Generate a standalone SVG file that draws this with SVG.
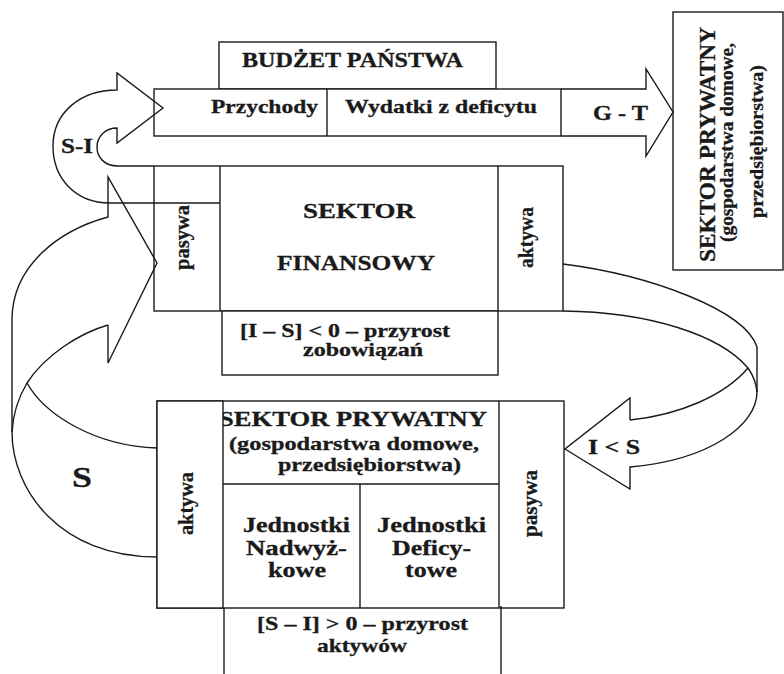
<svg xmlns="http://www.w3.org/2000/svg" width="784" height="674" viewBox="0 0 784 674">
<style>
.bx{fill:#fff;stroke:#1a1a1a;stroke-width:1.4}
.ln{fill:none;stroke:#1a1a1a;stroke-width:1.4;stroke-linejoin:miter}
text{font-family:"Liberation Serif","Times New Roman",serif;font-weight:bold;fill:#1a1a1a;stroke:#1a1a1a;stroke-width:0.3}
.f19{font-size:19px}.f20{font-size:20px}.f21{font-size:21px}.f22{font-size:22px}.f23{font-size:23px}
</style>
<rect width="784" height="674" fill="#fff" stroke="none"/>

<g id="budzet">
<rect class="bx" x="219" y="42" width="277" height="47"/>
<text class="f21" x="242" y="67" textLength="221" lengthAdjust="spacingAndGlyphs">BUDŻET PAŃSTWA</text>
<rect class="bx" x="154" y="89" width="407" height="47"/>
<line class="ln" x1="327" y1="89" x2="327" y2="136"/>
<text class="f19" x="211" y="113" textLength="107" lengthAdjust="spacingAndGlyphs">Przychody</text>
<text class="f19" x="345" y="113" textLength="192" lengthAdjust="spacingAndGlyphs">Wydatki z deficytu</text>
</g>

<g id="sektor-prywatny-prawy">
<rect class="bx" x="673" y="12" width="110" height="258"/>
<text class="f23" transform="translate(715,262) rotate(-90)" textLength="235" lengthAdjust="spacingAndGlyphs">SEKTOR PRYWATNY</text>
<text style="font-size:18px" transform="translate(733,242) rotate(-90)" textLength="199" lengthAdjust="spacingAndGlyphs">(gospodarstwa domowe,</text>
<text style="font-size:18px" transform="translate(763,218) rotate(-90)" textLength="153" lengthAdjust="spacingAndGlyphs">przedsiębiorstwa)</text>
</g>

<g id="sektor-finansowy">
<rect class="bx" x="154" y="166" width="409" height="145"/>
<line class="ln" x1="220" y1="166" x2="220" y2="311"/>
<line class="ln" x1="498" y1="166" x2="498" y2="311"/>
<text class="f22" x="303" y="218" textLength="112" lengthAdjust="spacingAndGlyphs">SEKTOR</text>
<text class="f22" x="277" y="270" textLength="158" lengthAdjust="spacingAndGlyphs">FINANSOWY</text>
<text class="f20" transform="translate(189,270) rotate(-90)" textLength="65" lengthAdjust="spacingAndGlyphs">pasywa</text>
<text class="f20" transform="translate(533,268) rotate(-90)" textLength="61" lengthAdjust="spacingAndGlyphs">aktywa</text>
</g>

<g id="nota-finansowy">
<rect class="bx" x="222" y="311" width="276" height="64"/>
<text class="f19" x="240" y="337" textLength="210" lengthAdjust="spacingAndGlyphs">[I – S] &lt; 0 – przyrost</text>
<text class="f19" x="303" y="356" textLength="120" lengthAdjust="spacingAndGlyphs">zobowiązań</text>
</g>

<g id="sektor-prywatny">
<rect class="bx" x="157" y="401" width="407" height="207"/>
<text class="f22" x="219" y="426" textLength="268" lengthAdjust="spacingAndGlyphs">SEKTOR PRYWATNY</text>
<text class="f19" x="229" y="450" textLength="250" lengthAdjust="spacingAndGlyphs">(gospodarstwa domowe,</text>
<text class="f19" x="278" y="471" textLength="183" lengthAdjust="spacingAndGlyphs">przedsiębiorstwa)</text>
<rect class="bx" x="157" y="401" width="66" height="207"/>
<line class="ln" x1="499" y1="401" x2="499" y2="608"/>
<line class="ln" x1="223" y1="484" x2="499" y2="484"/>
<line class="ln" x1="360" y1="484" x2="360" y2="608"/>
<text class="f20" transform="translate(193,535) rotate(-90)" textLength="63" lengthAdjust="spacingAndGlyphs">aktywa</text>
<text class="f20" transform="translate(537,537) rotate(-90)" textLength="67" lengthAdjust="spacingAndGlyphs">pasywa</text>
<text class="f20" x="243" y="532" textLength="107" lengthAdjust="spacingAndGlyphs">Jednostki</text>
<text class="f20" x="246" y="555" textLength="101" lengthAdjust="spacingAndGlyphs">Nadwyż-</text>
<text class="f20" x="268" y="577" textLength="58" lengthAdjust="spacingAndGlyphs">kowe</text>
<text class="f20" x="377" y="532" textLength="109" lengthAdjust="spacingAndGlyphs">Jednostki</text>
<text class="f20" x="392" y="555" textLength="79" lengthAdjust="spacingAndGlyphs">Deficy-</text>
<text class="f20" x="405" y="577" textLength="52" lengthAdjust="spacingAndGlyphs">towe</text>
</g>

<g id="nota-prywatny">
<line class="ln" x1="224" y1="608" x2="224" y2="674"/>
<line class="ln" x1="501" y1="606" x2="501" y2="674"/>
<text class="f19" x="257" y="630" textLength="211" lengthAdjust="spacingAndGlyphs">[S – I] &gt; 0 – przyrost</text>
<text class="f19" x="317" y="652" textLength="90" lengthAdjust="spacingAndGlyphs">aktywów</text>
</g>

<g id="connectors">
<path id="arrow-GT" class="ln" d="M561,89 L646,89 L646,69 L673,112 L646,156 L646,136 L561,136"/>
<text class="f21" x="593" y="120" textLength="55" lengthAdjust="spacingAndGlyphs">G - T</text>

<path id="arrow-SI" class="ln" d="M220,203 L110,203 C75,203 53,178 53,146 C53,113 80,90 117,90 L117,73 L163,108 L117,143 L117,128 C105,128 97,137 97,147 C97,158 105,166 118,166 L154,166"/>
<text class="f20" x="61" y="153" textLength="32" lengthAdjust="spacingAndGlyphs">S-I</text>

<g id="arrow-S">
<path class="ln" d="M108,325 L108,363 L157,263 L108,177 L108,217 C60,230 12,265 12,320 L12,432"/>
<path class="ln" d="M108,325 C80,333 45,355 27,383 C18,398 13,415 12,432 C12,490 60,557 157,557"/>
<path class="ln" d="M27,383 C45,415 95,446 157,448"/>
</g>
<text style="font-size:30px" x="72" y="487" textLength="20" lengthAdjust="spacingAndGlyphs">S</text>

<g id="arrow-IS">
<path class="ln" d="M563,264 C650,275 745,310 757,347 L757,392 C757,425 710,460 630,467 L630,489 L565,449 L630,398 L630,420"/>
<path class="ln" d="M563,311 C650,312 720,335 748,368 C753,375 756,382 757,392"/>
<path class="ln" d="M748,368 C725,395 680,415 630,420"/>
</g>
<text class="f20" x="588" y="454" textLength="52" lengthAdjust="spacingAndGlyphs">I &lt; S</text>
</g>
</svg>
